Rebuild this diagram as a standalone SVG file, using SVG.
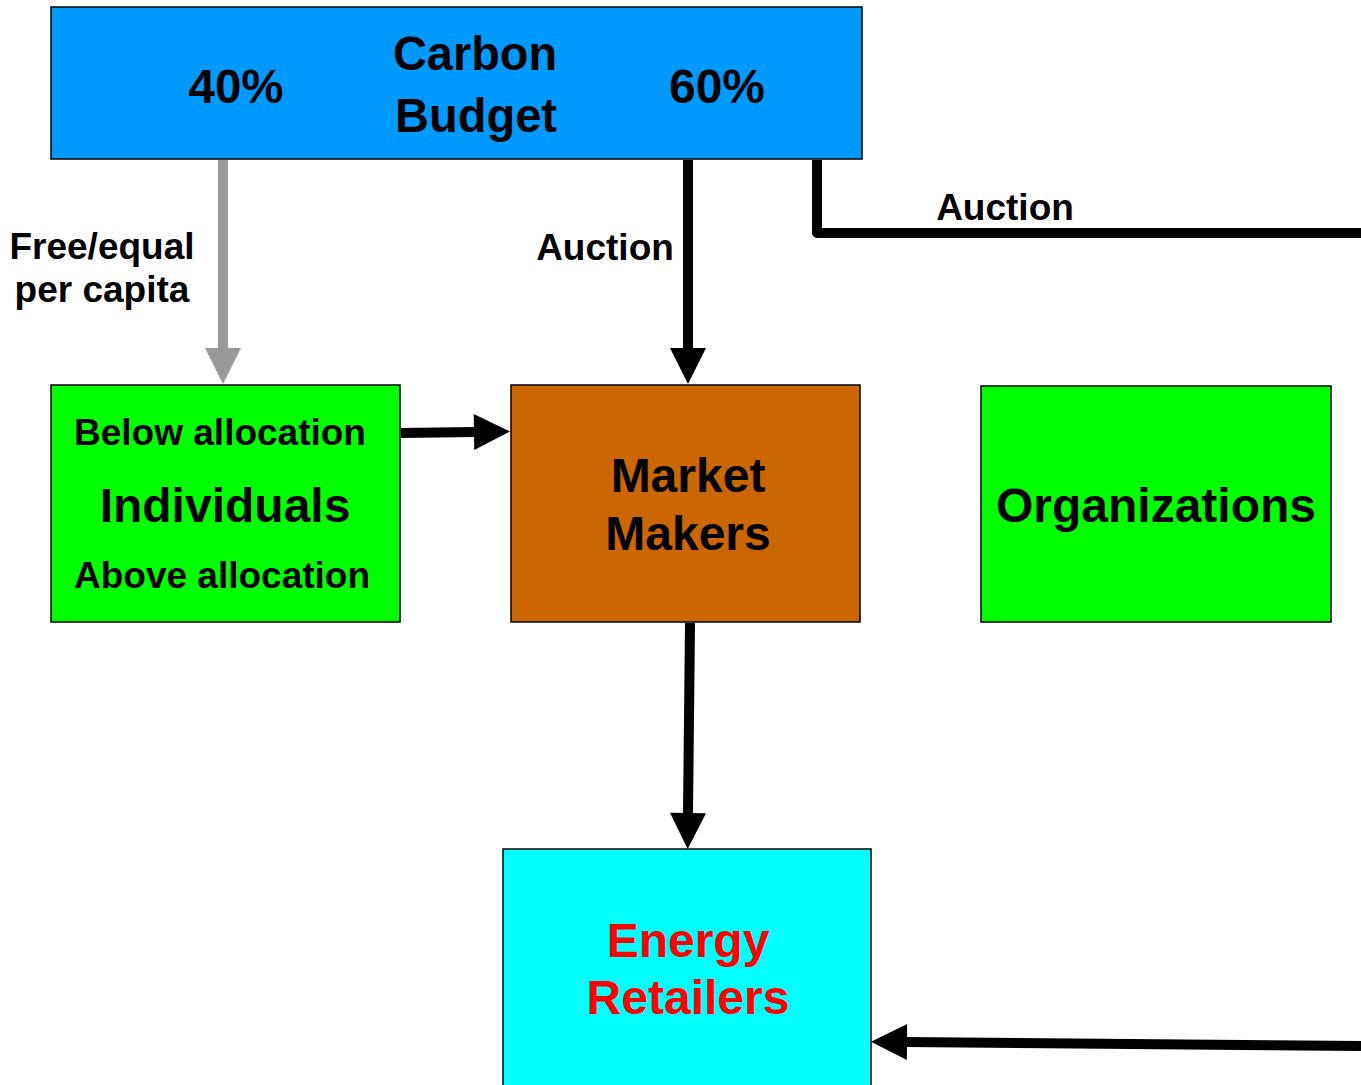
<svg xmlns="http://www.w3.org/2000/svg" width="1361" height="1085" viewBox="0 0 1361 1085">
<style>
.box{stroke:#000;stroke-width:1.5}
.t{font-family:"Liberation Sans",Arial,sans-serif;font-weight:bold;fill:#000}
.big{font-size:48px}
.lbl{font-size:37px}
.c{text-anchor:middle}
.ln{fill:none;stroke:#000;stroke-width:10}
</style>
<defs>
<marker id="ah" markerUnits="userSpaceOnUse" markerWidth="36" markerHeight="36" viewBox="0 0 36 36" refX="1" refY="18" orient="auto" overflow="visible">
<path d="M0,0 L36,18 L0,36 Z" fill="#000"/>
</marker>
<marker id="ahg" markerUnits="userSpaceOnUse" markerWidth="36" markerHeight="36" viewBox="0 0 36 36" refX="1" refY="18" orient="auto" overflow="visible">
<path d="M0,0 L36,18 L0,36 Z" fill="#999"/>
</marker>
</defs>
<rect width="1361" height="1085" fill="#fff"/>
<g id="connectors">
<line x1="223" y1="160" x2="223" y2="349" stroke="#999" stroke-width="10" marker-end="url(#ahg)"/>
<line x1="688" y1="160" x2="688" y2="349" class="ln" marker-end="url(#ah)"/>
<path d="M817,160 L817,233 L1361,233" class="ln" stroke-linejoin="round"/>
<line x1="401" y1="433" x2="475" y2="432" class="ln" marker-end="url(#ah)"/>
<line x1="690" y1="623" x2="688" y2="814" class="ln" marker-end="url(#ah)"/>
<line x1="1361" y1="1046" x2="906" y2="1042" class="ln" marker-end="url(#ah)"/>
<text x="102" y="259" class="t lbl c">Free/equal</text>
<text x="102" y="302" class="t lbl c">per capita</text>
<text x="605" y="260" class="t lbl c">Auction</text>
<text x="1005" y="220" class="t lbl c">Auction</text>
</g>
<g id="carbon-budget">
<rect x="51" y="7" width="811" height="152" fill="#0099ff" class="box"/>
<text x="475" y="70" class="t big c" textLength="164" lengthAdjust="spacingAndGlyphs">Carbon</text>
<text x="476" y="132" class="t big c" textLength="162" lengthAdjust="spacingAndGlyphs">Budget</text>
<text x="236" y="103" class="t big c" textLength="95" lengthAdjust="spacingAndGlyphs">40%</text>
<text x="717" y="103" class="t big c" textLength="96" lengthAdjust="spacingAndGlyphs">60%</text>
</g>
<g id="individuals">
<rect x="51" y="385" width="349" height="237" fill="#00ff00" class="box"/>
<text x="220" y="445" class="t lbl c">Below allocation</text>
<text x="225" y="522" class="t big c">Individuals</text>
<text x="222" y="588" class="t lbl c">Above allocation</text>
</g>
<g id="market-makers">
<rect x="511" y="385" width="349" height="237" fill="#cc6600" class="box"/>
<text x="688" y="492" class="t big c">Market</text>
<text x="688" y="550" class="t big c">Makers</text>
</g>
<g id="organizations">
<rect x="981" y="386" width="350" height="236" fill="#00ff00" class="box"/>
<text x="1156" y="522" class="t big c">Organizations</text>
</g>
<g id="energy-retailers">
<rect x="503" y="849" width="368" height="245" fill="#00ffff" class="box"/>
<text x="688" y="957" class="t big c" style="fill:#ff0000">Energy</text>
<text x="688" y="1014" class="t big c" style="fill:#ff0000">Retailers</text>
</g>
</svg>
